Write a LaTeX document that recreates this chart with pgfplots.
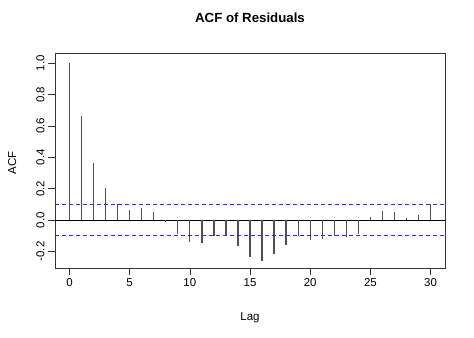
\documentclass[border=0pt]{standalone}
\usepackage{fontspec}
\setmainfont{Liberation Sans}
\usepackage{pgfplots}
\pgfplotsset{compat=1.18}
\definecolor{cilim}{RGB}{40,40,255}
\definecolor{barc}{RGB}{80,80,80}
\begin{document}
\begin{tikzpicture}
\path[use as bounding box] (0,0) rectangle (474bp,338bp);
\begin{axis}[
  at={(55bp,70bp)}, anchor=south west,
  width=390bp, height=215bp, scale only axis,
  xmin=-1.2, xmax=31.2, ymin=-0.306, ymax=1.066,
  xtick={0,5,10,15,20,25,30},
  ytick={-0.2,0,0.2,0.4,0.6,0.8,1.0},
  tick align=outside, xtick pos=bottom, ytick pos=left,
  major tick length=7bp,
  tick style={black!80, line width=0.6bp},
  axis line style={black!80, line width=0.6bp},
  /pgf/number format/assume math mode=true,
  ticklabel style={font=\fontsize{11.5}{13}\selectfont},
  yticklabel style={rotate=90, anchor=south,
    /pgf/number format/fixed, /pgf/number format/fixed zerofill,
    /pgf/number format/precision=1},
  xlabel={Lag}, ylabel={ACF},
  label style={font=\fontsize{11.5}{13}\selectfont},
  xlabel style={at={(axis description cs:0.5,-0.2326)}, anchor=center},
  ylabel style={at={(axis description cs:-0.110,0.49)}, anchor=center},
  title={ACF of Residuals},
  title style={at={(axis description cs:0.5,1.135)}, anchor=center,
    font=\bfseries\fontsize{13.3}{15}\selectfont},
]
\addplot[black, line width=0.7bp] coordinates {(-1.2,0) (31.2,0)};
\addplot[ycomb, draw=barc, line width=1.3bp, no marks] coordinates {
(0,1.0) (1,0.666) (2,0.362) (3,0.202) (4,0.102) (5,0.064) (6,0.074) (7,0.051)
(8,-0.013) (9,-0.089) (10,-0.138) (11,-0.149) (12,-0.102) (13,-0.096) (14,-0.163)
(15,-0.234) (16,-0.260) (17,-0.217) (18,-0.157) (19,-0.104) (20,-0.130) (21,-0.121)
(22,-0.104) (23,-0.109) (24,-0.087) (25,0.017) (26,0.055) (27,0.051) (28,0.013)
(29,0.032) (30,0.104)
};
\addplot[draw=cilim, line width=1bp, dash pattern=on 4bp off 3bp] coordinates {(-1.2,0.1) (31.2,0.1)};
\addplot[draw=cilim, line width=1bp, dash pattern=on 4bp off 3bp] coordinates {(-1.2,-0.1) (31.2,-0.1)};
\end{axis}
\end{tikzpicture}
\end{document}
